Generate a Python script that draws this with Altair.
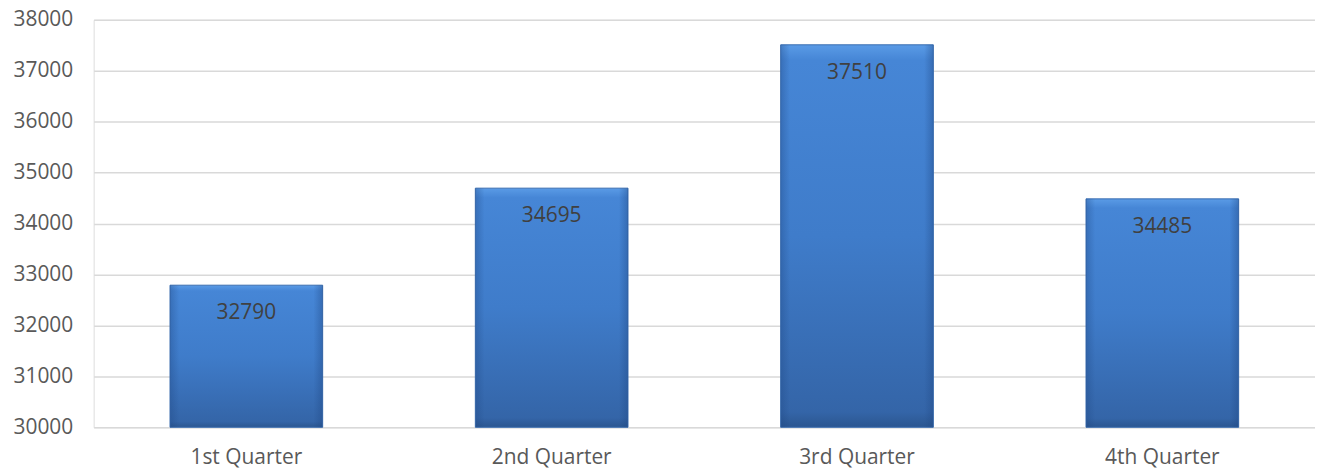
import altair as alt
import pandas as pd

quarters = ["1st Quarter", "2nd Quarter", "3rd Quarter", "4th Quarter"]
values = [32790, 34695, 37510, 34485]
y_ticks = [30000, 31000, 32000, 33000, 34000, 35000, 36000, 37000, 38000]

df = pd.DataFrame({"quarter": quarters, "value": values})
FONT = "Open Sans"
FS = 21

x = alt.X("quarter:N", sort=quarters, title=None,
          scale=alt.Scale(paddingInner=0.5, paddingOuter=0.25),
          axis=alt.Axis(labelAngle=0, labelFont=FONT, labelFontSize=FS, labelColor="#595959",
                        labelPadding=19, ticks=False, domain=False, grid=False))
y = alt.Y("value:Q", title=None,
          scale=alt.Scale(domain=[30000, 38000], nice=False, zero=False, clamp=True),
          axis=alt.Axis(values=y_ticks, format="d", labelFont=FONT, labelFontSize=FS,
                        labelColor="#595959", labelPadding=21, ticks=False, domain=False,
                        gridColor="#d9d9d9", gridWidth=1.5))

base = alt.Chart(df).encode(x=x)

bars = base.mark_bar(
    color=alt.Gradient(gradient="linear", x1=0, y1=0, x2=0, y2=1,
                       stops=[alt.GradientStop(color="#5a9be6", offset=0),
                              alt.GradientStop(color="#4686d6", offset=0.04),
                              alt.GradientStop(color="#3f7cca", offset=0.5),
                              alt.GradientStop(color="#3465a8", offset=0.96),
                              alt.GradientStop(color="#2b5690", offset=1)]),
    stroke="#3a6db0", strokeWidth=1,
).encode(y=y, y2=alt.datum(30000))

sides = base.mark_bar(
    color=alt.Gradient(gradient="linear", x1=0, y1=0, x2=1, y2=0,
                       stops=[alt.GradientStop(color="rgba(30,70,130,0.35)", offset=0),
                              alt.GradientStop(color="rgba(30,70,130,0.0)", offset=0.06),
                              alt.GradientStop(color="rgba(30,70,130,0.0)", offset=0.94),
                              alt.GradientStop(color="rgba(30,70,130,0.4)", offset=1)]),
).encode(y=y, y2=alt.datum(30000))

labels = base.mark_text(font=FONT, fontSize=FS, color="#404040", baseline="middle", dy=28).encode(
    y=alt.Y("value:Q"), text=alt.Text("value:Q", format="d"))

chart = alt.layer(bars, sides, labels).properties(
    width=1226, height=409,
    autosize=alt.AutoSizeParams(type="none"),
    padding={"left": 86, "top": 11, "right": 0, "bottom": 44},
).configure_view(stroke=None).configure(background="white")

chart.save("out.html", embed_options={"renderer": "svg", "actions": False})
